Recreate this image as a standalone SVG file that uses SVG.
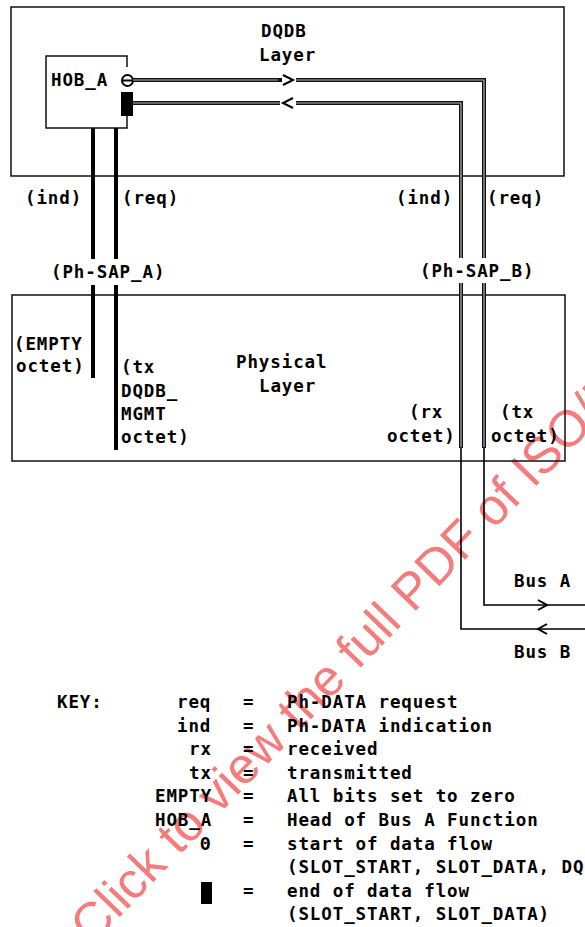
<svg xmlns="http://www.w3.org/2000/svg" width="585" height="927" viewBox="0 0 585 927">
<style>
text{font-family:"DejaVu Sans Mono","Liberation Mono",monospace;font-size:17.5px;font-weight:bold;letter-spacing:0.9px;fill:#000}
.box{fill:none;stroke:#111;stroke-width:1.5}
.dbl{fill:none;stroke:#111;stroke-width:4}
.dblc{fill:none;stroke:#b5b5b5;stroke-width:1.2}
.solid{fill:none;stroke:#000;stroke-width:4}
.thin{fill:none;stroke:#000;stroke-width:1.6}
.chev{fill:none;stroke:#000;stroke-width:2}
text.wm{font-family:"Liberation Sans",Arial,sans-serif;font-size:51px;font-weight:normal;letter-spacing:0;fill:#f47c7c}
</style>
<rect width="585" height="927" fill="#fff"/>
<text class="wm" transform="translate(92,946) rotate(-46)">Click to view the full PDF of ISO/I</text>
<g id="dqdb-layer">
<rect class="box" x="11" y="7" width="553" height="169"/>
<text x="261" y="37">DQDB</text>
<text x="259" y="61">Layer</text>
</g>
<g id="physical-layer">
<rect class="box" x="12" y="295" width="553" height="166"/>
<text x="236" y="368">Physical</text>
<text x="259" y="392">Layer</text>
</g>
<g id="hob-a">
<path class="box" d="M127,67 V56 H46 V128 H127 V116"/>
<text x="51" y="86">HOB_A</text>
<circle cx="127.5" cy="80.5" r="5.5" fill="#fff" stroke="#000" stroke-width="2"/>
<line x1="122" y1="80.5" x2="133" y2="80.5" stroke="#000" stroke-width="2"/>
<rect x="121" y="92" width="12" height="24" fill="#000"/>
</g>
<g id="connectors">
<path class="dbl" d="M133,80 H484 V258 M484,283 V448"/>
<path class="dblc" d="M133,80 H484 V258 M484,283 V448"/>
<path class="dbl" d="M133,103 H461 V258 M461,283 V448"/>
<path class="dblc" d="M133,103 H461 V258 M461,283 V448"/>
<path class="thin" d="M484,447 V605 H585"/>
<path class="thin" d="M461,447 V629 H585"/>
<path class="solid" d="M93,128 V259 M93,285 V378"/>
<path class="solid" d="M116,128 V259 M116,285 V450"/>
<rect x="280" y="73" width="16" height="14" fill="#fff"/>
<rect x="280" y="96" width="16" height="14" fill="#fff"/>
<path class="dbl" d="M278,80 H282"/>
<path class="chev" d="M283,75 L293,80 L283,85"/>
<path class="chev" d="M293,98 L283,103 L293,108"/>
<path class="chev" d="M538,600 L547,605 L538,610"/>
<path class="chev" d="M547,624 L538,629 L547,634"/>
</g>
<g id="labels">
<text x="25" y="204">(ind)</text>
<text x="122" y="204">(req)</text>
<text x="396" y="204">(ind)</text>
<text x="487" y="204">(req)</text>
<text x="51" y="278">(Ph-SAP_A)</text>
<text x="420" y="277">(Ph-SAP_B)</text>
<text x="14" y="350">(EMPTY</text>
<text x="16" y="372">octet)</text>
<text x="121" y="373">(tx</text>
<text x="121" y="397">DQDB_</text>
<text x="121" y="420">MGMT</text>
<text x="121" y="443">octet)</text>
<text x="409" y="418">(rx</text>
<text x="387" y="442">octet)</text>
<text x="500" y="418">(tx</text>
<text x="491" y="442">octet)</text>
<text x="514" y="587">Bus A</text>
<text x="514" y="658">Bus B</text>
</g>
<g id="key">
<text x="57" y="708">KEY:</text>
<text x="177" y="708">req</text>
<text x="177" y="731.5">ind</text>
<text x="189" y="755">rx</text>
<text x="189" y="778.5">tx</text>
<text x="155" y="802">EMPTY</text>
<text x="155" y="826">HOB_A</text>
<text x="200" y="849.5">Θ</text>
<rect x="201" y="882" width="11" height="22" fill="#000"/>
<text x="243" y="708">=</text>
<text x="243" y="731.5">=</text>
<text x="243" y="755">=</text>
<text x="243" y="778.5">=</text>
<text x="243" y="802">=</text>
<text x="243" y="826">=</text>
<text x="243" y="849.5">=</text>
<text x="243" y="896.5">=</text>
<text x="287" y="708">Ph-DATA request</text>
<text x="287" y="731.5">Ph-DATA indication</text>
<text x="287" y="755">received</text>
<text x="287" y="778.5">transmitted</text>
<text x="287" y="802">All bits set to zero</text>
<text x="287" y="826">Head of Bus A Function</text>
<text x="287" y="849.5">start of data flow</text>
<text x="287" y="873">(SLOT_START, SLOT_DATA, DQ</text>
<text x="287" y="896.5">end of data flow</text>
<text x="287" y="920">(SLOT_START, SLOT_DATA)</text>
</g>
</svg>
